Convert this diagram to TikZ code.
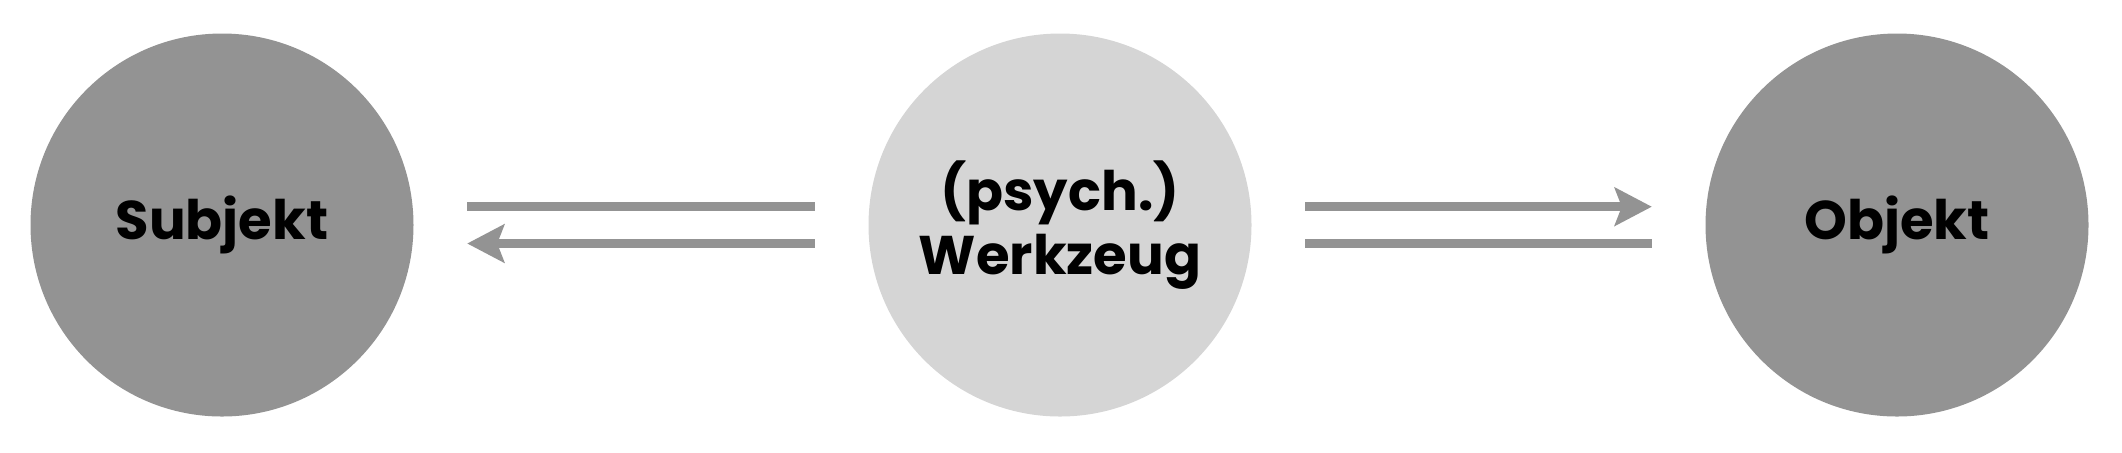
\documentclass[tikz,border=0pt]{standalone}
\usepackage{fontspec}
\setmainfont{Poppins}
\usetikzlibrary{arrows.meta}
\definecolor{kreisgrau}{HTML}{939393}
\definecolor{hellgrau}{HTML}{D5D5D5}
\begin{document}
\begin{tikzpicture}[main/.style = {circle, minimum size=3.83cm, inner sep=0pt, font=\fontsize{15.5}{18}\selectfont\bfseries, align=center},
	pfeil/.style = {draw=kreisgrau, line width=0.09cm, shorten <=0.53cm, shorten >=0.53cm}]
					\useasboundingbox (0,0) rectangle (21.22,-4.52);
					\begin{scope}[every node/.style={main}]
						\node[fill=kreisgrau] (S) at (2.22,-2.25) {\raisebox{-0.6mm}{Subjekt}};
						\node[fill=hellgrau] (W) at (10.60,-2.25) {(psych.)\\Werkzeug};
						\node[fill=kreisgrau] (O) at (18.97,-2.25) {\raisebox{-0.6mm}{Objekt}};
					\end{scope}
					\draw [pfeil] ([yshift=1.83mm]S.east) -- ([yshift=1.83mm]W.west);
					\draw [pfeil,-{Stealth[length=0.37cm,width=0.38cm,inset=0.07cm]}] ([yshift=-1.85mm]W.west) -- ([yshift=-1.85mm]S.east);
					\draw [pfeil,-{Stealth[length=0.37cm,width=0.38cm,inset=0.07cm]}] ([yshift=1.83mm]W.east) -- ([yshift=1.83mm]O.west);
					\draw [pfeil] ([yshift=-1.85mm]W.east) -- ([yshift=-1.85mm]O.west);
				\end{tikzpicture}
\end{document}
